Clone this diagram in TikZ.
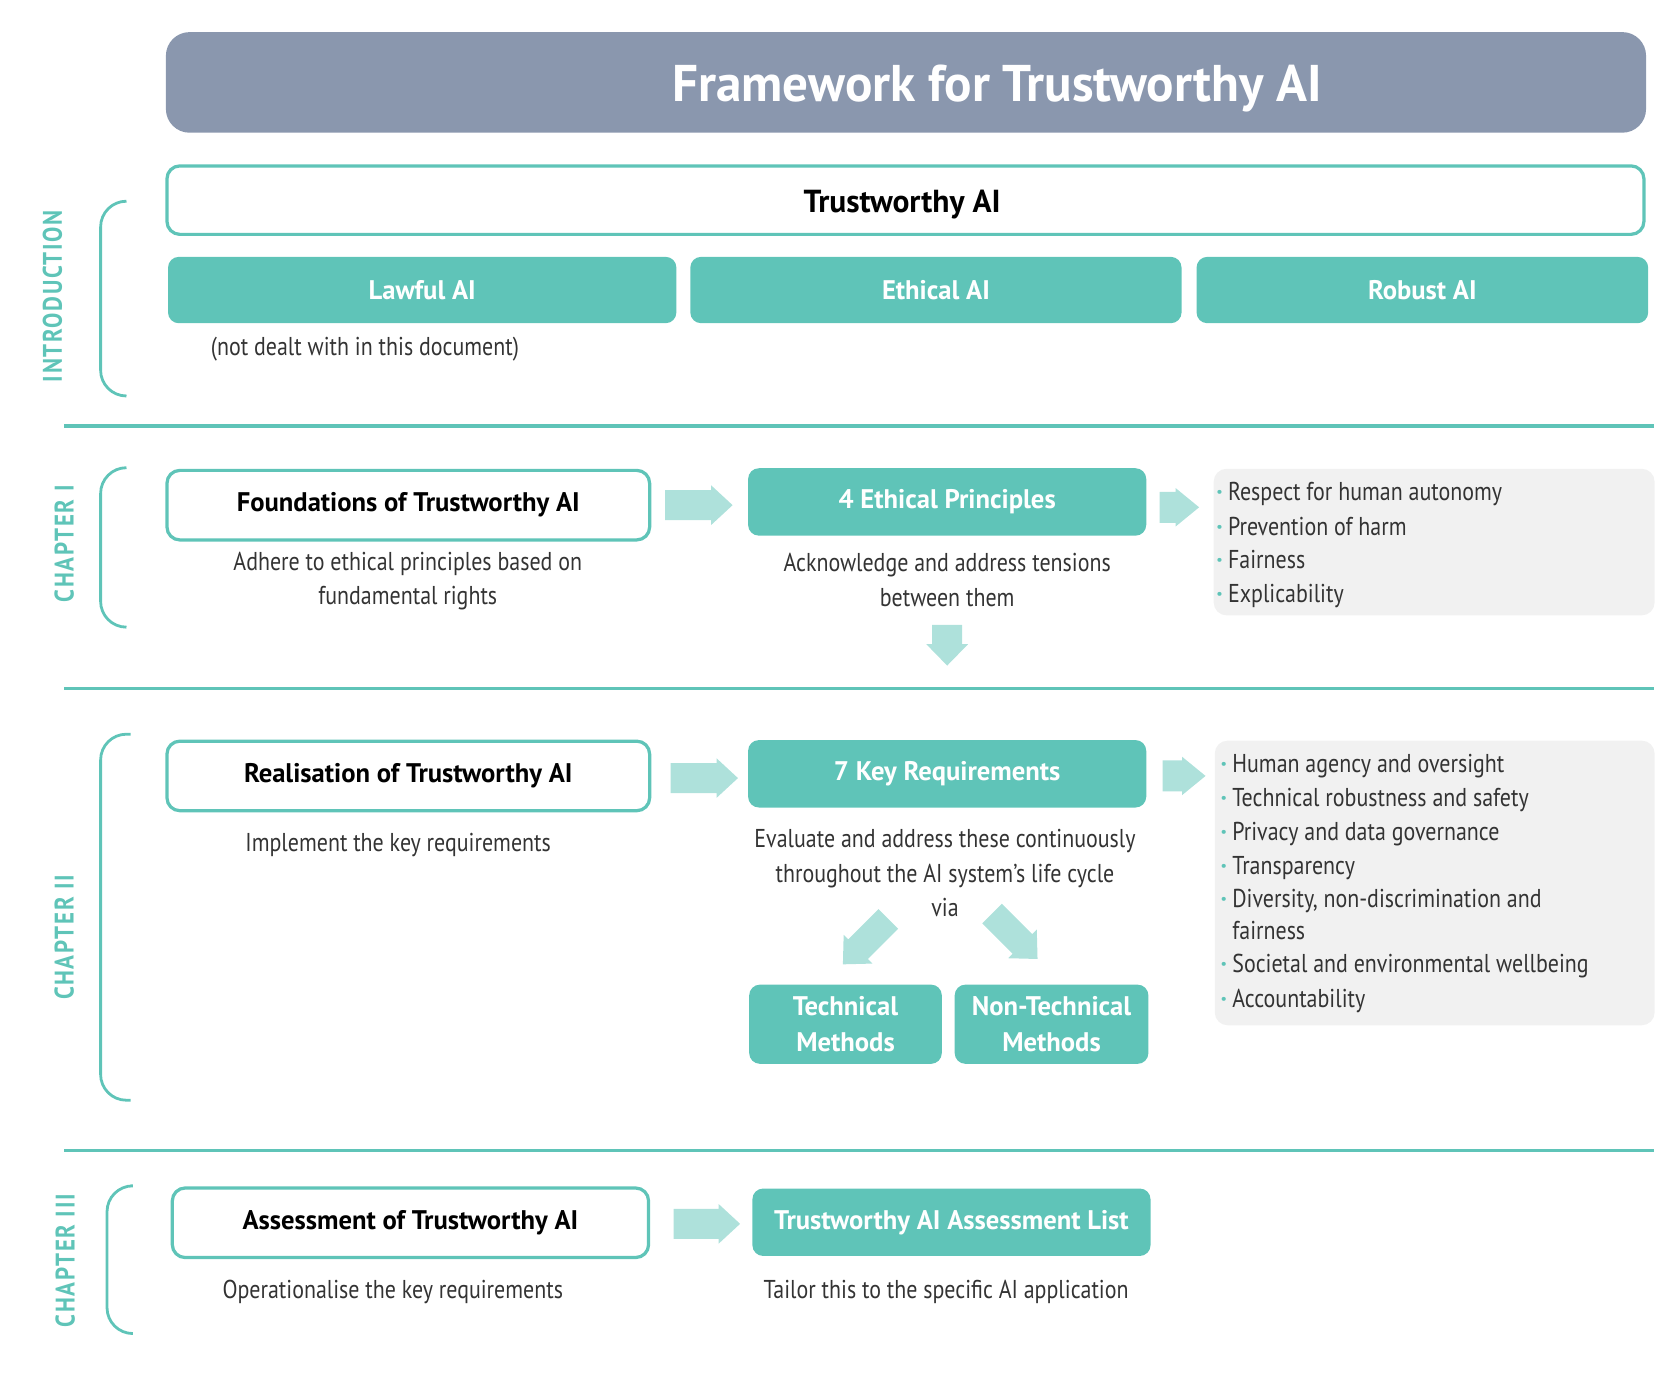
\documentclass[tikz,border=0pt]{standalone}
\usepackage{fontspec}
\setmainfont[FakeStretch=0.85,BoldFeatures={FakeStretch=0.99}]{PT Sans}
\newfontfamily\chapfont[FakeStretch=0.85,LetterSpace=6]{PT Sans}
\usetikzlibrary{calc}
\definecolor{tealA}{HTML}{5FC4B8}
\definecolor{tealL}{HTML}{AEE1DB}
\definecolor{titleC}{HTML}{8A97AE}
\definecolor{grayC}{HTML}{F1F1F1}
\definecolor{bodyC}{HTML}{333333}
\newcommand{\bul}{{\color{tealA}\textbf{·}}\hspace{2.5pt}}
\tikzset{
  pics/barrow/.style n args={4}{code={%
    \fill[tealL] (0,-#3) -- (#1,-#3) -- (#1,-#4) -- ({#1+#2},0) -- (#1,#4) -- (#1,#3) -- (0,#3) -- cycle;
  }},
}
\begin{document}
\begin{tikzpicture}[x=0.4975pt,y=-0.4975pt,
  tealbox/.style={fill=tealA, rounded corners=5pt, text=white, font=\bfseries\fontsize{12.5}{17}\selectfont, inner sep=0pt, align=center},
  whitebox/.style={draw=tealA, line width=1.5pt, fill=white, rounded corners=6pt, text=black, font=\bfseries\fontsize{12.5}{15}\selectfont, inner sep=0pt},
  graybox/.style={fill=grayC, rounded corners=6pt, inner sep=0pt},
  desc/.style={text=bodyC, font=\fontsize{12}{16}\selectfont, align=center, inner sep=0pt},
  item/.style={text=bodyC, font=\fontsize{12}{15}\selectfont, anchor=base west, inner sep=0pt},
  bracket/.style={draw=tealA, line width=1.3pt, rounded corners=12pt},
  sepline/.style={draw=tealA, line width=1.5pt},
  chap/.style={text=tealA, font=\chapfont\bfseries\fontsize{12.5}{14}\selectfont, rotate=90, inner sep=0pt},
  sz/.style 2 args={minimum width=#1*0.4975pt, minimum height=#2*0.4975pt},
]
\useasboundingbox (0pt,0pt) rectangle (780pt,-650pt);

% ---------- title
\node[fill=titleC, rounded corners=11pt, inner sep=0pt, sz={1383}{94}] (title) at (846.5,77) {};
\node[text=white, font=\bfseries\fontsize{24}{30}\selectfont, inner sep=0pt] (titletext) at (932,83) {Framework for Trustworthy AI};

% ---------- introduction
\node[whitebox, sz={1380}{64}] (tai) at (846,187) {};
\node[text=black, font=\bfseries\fontsize{14.8}{18}\selectfont, inner sep=0pt] (taitext) at (843,191) {Trustworthy AI};
\node[tealbox, sz={475}{62}] (lawful) at (394.5,271) {Lawful AI};
\node[tealbox, sz={459}{62}] (ethical) at (874.5,271) {Ethical AI};
\node[tealbox, sz={422}{62}] (robust) at (1329,271) {Robust AI};
\node[desc] (note) at (341,326) {(not dealt with in this document)};
\node[chap] (lintro) at (49,277) {INTRODUCTION};
\draw[bracket] (118,188) -- (94,188) -- (94,370) -- (118,370);
\draw[sepline] (60,398) -- (1545,398);

% ---------- chapter I
\node[chap] (lch1) at (60,508) {CHAPTER I};
\draw[bracket] (118,437) -- (94,437) -- (94,586) -- (118,586);
\node[whitebox, sz={451}{65}] (found) at (381.5,472) {Foundations of Trustworthy AI};
\node[desc] (desc1) at (381,543) {Adhere to ethical principles based on\\fundamental rights};
\node[tealbox, sz={372}{63}] (ethp) at (885,469) {4 Ethical Principles};
\node[desc] (desc2) at (885,542) {Acknowledge and address tensions\\between them};
\node[graybox, sz={412}{137}] (list1) at (1340,506.5) {};
\node[item] (p1) at (1136,468) {\bul Respect for human autonomy};
\node[item] (p2) at (1136,500) {\bul Prevention of harm};
\node[item] (p3) at (1136,531) {\bul Fairness};
\node[item] (p4) at (1136,563) {\bul Explicability};
\pic at ($(found.east)+(13,0)$) {barrow={43}{20}{14}{18.5}};
\pic at ($(ethp.east)+(12,5)$) {barrow={15}{22}{14.5}{18}};
\pic[rotate=-90] at ($(ethp.south)+(0,83)$) {barrow={18}{20}{14}{19.5}};
\draw[sepline] (60,643) -- (1545,643);

% ---------- chapter II
\node[chap] (lch2) at (60,876) {CHAPTER II};
\draw[bracket] (122,686) -- (94,686) -- (94,1028) -- (122,1028);
\node[whitebox, sz={451}{65}] (real) at (381.5,725) {Realisation of Trustworthy AI};
\node[desc] (desc3) at (372,790) {Implement the key requirements};
\node[tealbox, sz={372}{63}] (keyr) at (885,723) {7 Key Requirements};
\node[desc] (desc4) at (883,816) {Evaluate and address these continuously\\throughout the AI system’s life cycle\\via};
\node[tealbox, sz={180}{74}] (tech) at (790,957) {Technical\\Methods};
\node[tealbox, sz={181}{74}] (nontech) at (982.5,957) {Non-Technical\\Methods};
\node[graybox, sz={411}{266}] (list2) at (1340.5,825) {};
\node[item] (r1) at (1140,722) {\bul Human agency and oversight};
\node[item] (r2) at (1140,754) {\bul Technical robustness and safety};
\node[item] (r3) at (1140,785) {\bul Privacy and data governance};
\node[item] (r4) at (1140,817) {\bul Transparency};
\node[item] (r5) at (1140,848) {\bul Diversity, non-discrimination and};
\node[item] (r5b) at (1140,878) {\phantom{\bul}fairness};
\node[item] (r6) at (1140,909) {\bul Societal and environmental wellbeing};
\node[item] (r7) at (1140,941) {\bul Accountability};
\pic at ($(real.east)+(18,2)$) {barrow={43}{20}{14}{18.5}};
\pic at ($(keyr.east)+(15,2)$) {barrow={18}{22}{14.5}{18}};
\pic[rotate=-135] at ($(tech.north)+(40,-61)$) {barrow={40}{20}{13}{19}};
\pic[rotate=-45] at ($(nontech.north)+(-55.5,-66)$) {barrow={40}{20}{13}{19}};
\draw[sepline] (60,1075) -- (1545,1075);

% ---------- chapter III
\node[chap] (lch3) at (61,1178) {CHAPTER III};
\draw[bracket] (122,1108) -- (100,1108) -- (100,1246) -- (122,1246);
\node[whitebox, sz={445}{65}] (assess) at (383.5,1142.5) {Assessment of Trustworthy AI};
\node[desc] (desc5) at (367,1207) {Operationalise the key requirements};
\node[tealbox, sz={372}{63}] (alist) at (889,1142) {Trustworthy AI Assessment List};
\node[desc] (desc6) at (884,1207) {Tailor this to the specific AI application};
\pic at ($(assess.east)+(22,1)$) {barrow={42}{20}{14}{18.5}};
\end{tikzpicture}
\end{document}
